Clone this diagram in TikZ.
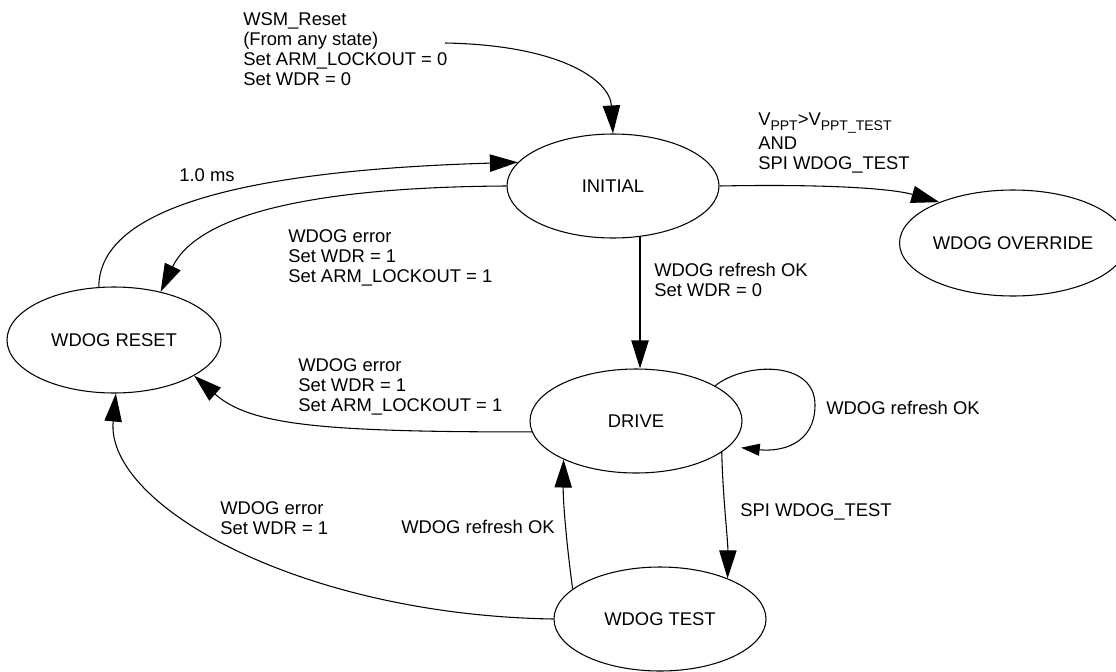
\documentclass[tikz,border=0pt]{standalone}
\usepackage{fontspec}
\setmainfont{Liberation Sans}
\usetikzlibrary{shapes.geometric,arrows.meta}
\newcommand\lsub[1]{\raisebox{-0.45ex}{\fontsize{10.5}{11}\selectfont #1}}
\begin{document}
\begin{tikzpicture}[x=0.75pt,y=-0.75pt,
  every node/.style={font=\fontsize{13.8}{15}\selectfont},
  stnode/.style={draw, ellipse, line width=0.8pt, inner sep=0pt, minimum width=159pt, minimum height=78pt},
  lbl/.style={align=left, inner sep=0pt, anchor=north west},
  plain/.style={inner sep=0pt, anchor=west},
  conn/.style={draw, line width=0.8pt, -{Triangle[length=21pt,width=13pt]}},
  smallconn/.style={draw, line width=0.8pt, -{Triangle[length=14pt,width=9pt]}}]
\useasboundingbox (0,0) rectangle (1116,671);
% states
\node[stnode] (ini) at (613,186) {INITIAL};
\node[stnode, minimum width=153pt, minimum height=79.5pt] (ovr) at (1013,243) {WDOG OVERRIDE};
\node[stnode, minimum width=160.5pt, minimum height=79.5pt] (rst) at (114,340) {WDOG RESET};
\node[stnode] (drv) at (636,421) {DRIVE};
\node[stnode] (tst) at (660,619) {WDOG TEST};
% connectors
\coordinate (wsm) at (445,43);
\draw[conn] (wsm) .. controls (560,45) and (610,80) .. (ini.90);
\draw[conn] (ini.0) .. controls (820,184) and (890,188) .. (ovr.151);
\draw[conn] (rst.106) .. controls (99,205) and (255,170) .. (ini.166);
\draw[conn] (ini.180) .. controls (330,187) and (200,210) .. (rst.46);
\draw[conn] (ini.-62) -- (ini.-62 |- drv.north);
\draw[conn] (drv.186) .. controls (320,432) and (250,425) .. (rst.-24.5);
\draw[conn] (tst.180) .. controls (300,615) and (105,505) .. (rst.-88);
\draw[smallconn] (drv.24) .. controls (745,362) and (815,360) .. (815,405) .. controls (815,445) and (780,452) .. ([shift={(10,3)}]drv.-14);
\draw[conn] (drv.-20) .. controls (723,500) and (728,540) .. (tst.31);
\draw[conn] (tst.161) .. controls (566,540) and (563,500) .. (drv.-152.5);
% labels
\node[lbl] (l1) at (243,12) {WSM\_Reset\\(From any state)\\Set ARM\_LOCKOUT = 0\\Set WDR = 0};
\node[lbl] (l2) at (758,113) {V\lsub{PPT}>V\lsub{PPT\_TEST}\\[3pt]AND\\SPI WDOG\_TEST};
\node[inner sep=0pt] (l3) at (207,175) {1.0 ms};
\node[lbl] (l4) at (288,229) {WDOG error\\Set WDR = 1\\Set ARM\_LOCKOUT = 1};
\node[lbl] (l5) at (654,263) {WDOG refresh OK\\Set WDR = 0};
\node[lbl] (l6) at (298,358) {WDOG error\\Set WDR = 1\\Set ARM\_LOCKOUT = 1};
\node[plain] (l7) at (826,408) {WDOG refresh OK};
\node[plain] (l8) at (740,512) {SPI WDOG\_TEST};
\node[lbl] (l9) at (220,501) {WDOG error\\Set WDR = 1};
\node[plain] (l10) at (401,527) {WDOG refresh OK};
\end{tikzpicture}
\end{document}
